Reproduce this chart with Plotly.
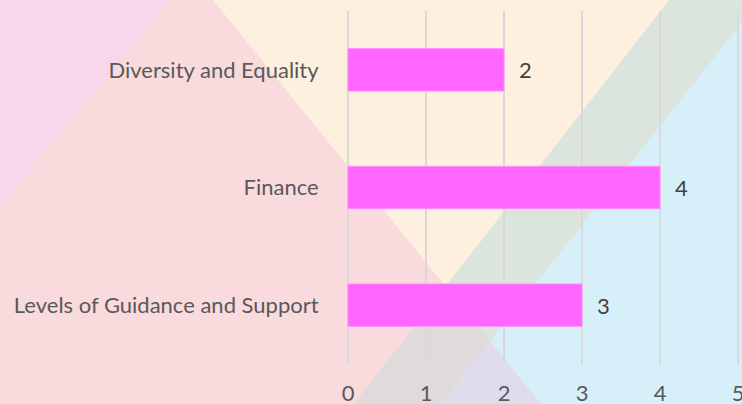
import plotly.graph_objects as go

categories = ["Diversity and Equality", "Finance", "Levels of Guidance and Support"]
values = [2, 4, 3]
x_ticks = [0, 1, 2, 3, 4, 5]

W, H = 742, 404
ML, MR, MT, MB = 344, 0, 11, 40
PW, PH = W - ML - MR, H - MT - MB
UNIT = 78.0
X0 = -4 / UNIT
X1 = X0 + PW / UNIT


def px(x, y):
    return (x - ML) / PW, (H - MB - y) / PH


def poly(points, color):
    pts = [px(x, y) for x, y in points]
    path = "M " + " L ".join(f"{a:.5f},{b:.5f}" for a, b in pts) + " Z"
    return dict(type="path", xref="paper", yref="paper", path=path,
                fillcolor=color, line=dict(width=0), layer="below")


shapes = [
    poly([(-5, -5), (750, -5), (750, 410), (-5, 410)], "#FDF0DF"),
    poly([(742, 18), (750, 12), (750, 410), (436, 410)], "#D7EFF9"),
    poly([(673, -5), (750, -5), (750, 12), (436, 410), (349, 410)], "#DCE4DE"),
    poly([(-5, -5), (209, -5), (446, 287), (349, 410), (-5, 410)], "#F9DADD"),
    poly([(446, 287), (490, 341), (436, 410), (349, 410)], "#DFDADB"),
    poly([(490, 341), (546, 410), (436, 410)], "#E1DCEC"),
    poly([(-5, -5), (174, -5), (-5, 211)], "#F8D6EC"),
]

fig = go.Figure()
fig.add_trace(go.Bar(
    x=values, y=categories, orientation="h",
    marker=dict(color="#FF66FF", line=dict(color="#FF8CFF", width=1)),
    width=0.36, hoverinfo="skip",
))

annotations = [
    dict(x=v, y=c, xref="x", yref="y", text=str(v), showarrow=False,
         xanchor="center", xshift=21, font=dict(size=22, color="#404040", family="Lato"))
    for c, v in zip(categories, values)
]

fig.update_layout(
    template="none",
    width=W, height=H,
    margin=dict(l=ML, r=MR, t=MT, b=MB, pad=0, autoexpand=False),
    paper_bgcolor="#FDF0DF",
    plot_bgcolor="rgba(0,0,0,0)",
    shapes=shapes,
    annotations=annotations,
    showlegend=False,
    font=dict(family="Lato", color="#595959", size=22),
    xaxis=dict(range=[X0, X1], tickvals=x_ticks, showgrid=True, gridcolor="#D9D9D9",
               gridwidth=1.5, zeroline=False, showline=False, automargin=False,
               ticks="outside", ticklen=10, tickcolor="rgba(0,0,0,0)",
               ticklabeloverflow="allow",
               tickfont=dict(size=22, color="#595959"), fixedrange=True),
    yaxis=dict(autorange="reversed", showgrid=False, zeroline=False, showline=False,
               automargin=False,
               ticks="outside", ticklen=20, tickcolor="rgba(0,0,0,0)",
               tickfont=dict(size=22, color="#595959"), fixedrange=True),
)

fig.write_html("out.html", config={"displayModeBar": False})
